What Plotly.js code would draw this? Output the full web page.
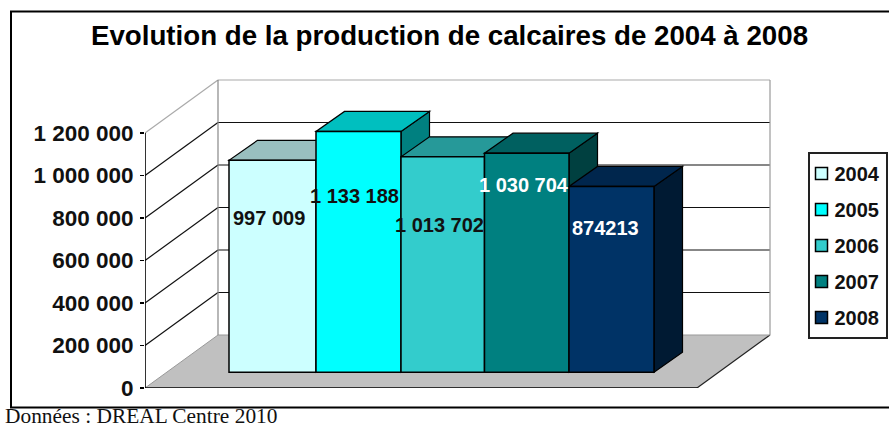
<!DOCTYPE html>
<html><head><meta charset="utf-8">
<script src="https://cdn.plot.ly/plotly-3.0.1.min.js"></script>
<style>html,body{margin:0;padding:0;background:#fff}</style></head>
<body><div id="chart" style="width:889px;height:427px"></div>
<script>
// Data
const years = ['2004','2005','2006','2007','2008'];
const values = [997009,1133188,1013702,1030704,874213];
const labels = ['997 009','1 133 188','1 013 702','1 030 704','874213'];
const barColors = ['#CCFFFF','#00FFFF','#33CCCC','#008080','#003366'];
const topColors = ['#99BFBF','#00BFBF','#269999','#006060','#00264D'];
const sideColors = ['#668080','#008080','#1A6666','#004040','#001A33'];
const labelColors = ['#111','#111','#111','#fff','#fff'];
const tickVals = [0,200000,400000,600000,800000,1000000,1200000];
const tickText = ['0','200 000','400 000','600 000','800 000','1 000 000','1 200 000'];

// Chart frame, in pixels
const W = 889, H = 427, L = 145, R = 780, T = 70, B = 388;
const PX_PER_CAT = 85, PX_PER_VAL = 212.5 / 1e6;
const catPx = px => px / PX_PER_CAT, valPx = px => px / PX_PER_VAL;
const xOf = px => (px - 229) / PX_PER_CAT - 0.5;
const paperX = px => (px - L) / (R - L), paperY = py => (B - py) / (B - T);

// Layout of the bars, in pixels
const barEdges = [229,316,401,484.5,569,654];
const labelCentres = [269,354.5,439.5,524,605];
const labelDrop = [58,65,68,32,42];

// Projection of the pseudo-3D box
const xL = xOf(L), xF = xOf(697);
const wallDX = catPx(73), wallDY = valPx(53);
const barDX = catPx(28.5), barDY = valPx(20);
const lift = valPx(15.8);
const vTop = 1200000;

const poly = (pts) => 'M' + pts.map(p => p[0] + ' ' + p[1]).join('L') + 'Z';
const shapes = [];
const add = (o) => shapes.push(Object.assign({xref:'x', yref:'y', layer:'below'}, o));
const seg = (x0,y0,x1,y1,color,width) => add({type:'line',x0,y0,x1,y1,line:{color,width}});

// Outer frame
shapes.push({type:'rect',xref:'paper',yref:'paper',layer:'below',
  x0:paperX(11),x1:paperX(W+5),y0:paperY(407.5),y1:paperY(11.5),
  line:{color:'#000',width:2},fillcolor:'rgba(0,0,0,0)'});

// Floor
add({type:'path',path:poly([[xL,0],[xF,0],[xF+wallDX,wallDY],[xL+wallDX,wallDY]]),
  fillcolor:'#C0C0C0',line:{width:0}});
seg(xL,0,xL+wallDX,wallDY,'#999',1);
seg(xF,0,xF+wallDX,wallDY,'#222',1.2);
// Walls and gridlines
tickVals.slice(1).forEach(v => {
  const c = v === vTop ? '#AAA' : '#111';
  seg(xL,v,xL+wallDX,v+wallDY,c,1.2);
  seg(xL+wallDX,v+wallDY,xF+wallDX,v+wallDY,c,1.2);
});
seg(xL+wallDX,wallDY,xF+wallDX,wallDY,'#999',1);
seg(xL+wallDX,wallDY,xL+wallDX,vTop+wallDY,'#888',1.2);
seg(xF+wallDX,wallDY,xF+wallDX,vTop+wallDY,'#999',1.2);

// Top and side of each bar, left to right
values.forEach((v,i) => {
  const x0 = xOf(barEdges[i]), x1 = xOf(barEdges[i+1]), t = v+lift;
  add({type:'path',path:poly([[x1,lift],[x1+barDX,lift+barDY],[x1+barDX,t+barDY],[x1,t]]),
    fillcolor:sideColors[i],line:{color:'#000',width:1.2}});
  add({type:'path',path:poly([[x0,t],[x1,t],[x1+barDX,t+barDY],[x0+barDX,t+barDY]]),
    fillcolor:topColors[i],line:{color:'#000',width:1.2}});
});

const traces = years.map((y,i) => {
  const x0 = xOf(barEdges[i]), x1 = xOf(barEdges[i+1]);
  return {type:'bar',name:y,x:[(x0+x1)/2],y:[values[i]],base:lift,width:x1-x0,legendgroup:y,
    marker:{color:barColors[i],line:{color:'#000',width:1.5}},hoverinfo:'name+y'};
});
// Axis lines of the front plane
traces.push({type:'scatter',mode:'lines',x:[xL,xL,xF],y:[vTop,0,0],showlegend:false,hoverinfo:'skip',
  cliponaxis:false,line:{color:'#000',width:1.6}});

const annotations = values.map((v,i) => ({
  xref:'x',yref:'y',x:xOf(labelCentres[i]),y:v+lift,yshift:-labelDrop[i],text:labels[i],showarrow:false,
  xanchor:'center',yanchor:'middle',font:{family:'Liberation Sans',size:20,color:labelColors[i],weight:700}
}));
annotations.push({xref:'paper',yref:'paper',x:paperX(3),y:paperY(415.5),text:'Données : DREAL Centre 2010',
  showarrow:false,xanchor:'left',yanchor:'middle',font:{family:'Liberation Serif',size:21.4,color:'#111'}});

const layout = {
  width:W,height:H,paper_bgcolor:'#fff',plot_bgcolor:'rgba(0,0,0,0)',barmode:'overlay',
  margin:{l:L,r:W-R,t:T,b:H-B,pad:0,autoexpand:false},
  title:{text:'Evolution de la production de calcaires de 2004 à 2008',xref:'paper',yref:'paper',
    x:paperX(449.5),y:paperY(42),xanchor:'center',yanchor:'middle',
    font:{family:'Liberation Sans',size:27.7,color:'#000',weight:700}},
  xaxis:{range:[xL,xOf(R)],visible:false,fixedrange:true},
  yaxis:{range:[0,(B-T)/PX_PER_VAL],showgrid:false,zeroline:false,showline:false,tickmode:'array',
    tickvals:tickVals,ticktext:tickText,ticks:'outside',ticklen:4,tickwidth:1.5,tickcolor:'#000',
    ticklabelstandoff:2,tickfont:{family:'Liberation Sans',size:22.5,color:'#111',weight:700},fixedrange:true},
  legend:{x:paperX(807.5),xanchor:'left',y:paperY(152),yanchor:'top',bgcolor:'#fff',bordercolor:'#222',borderwidth:2,
    traceorder:'grouped',tracegroupgap:7,indentation:-15,font:{family:'Liberation Sans',size:20,color:'#111',weight:700}},
  shapes,annotations
};
Plotly.newPlot('chart',traces,layout,{displayModeBar:false,staticPlot:true}).then(() => {
  // Swatches sit a little further right in the original legend box
  document.querySelectorAll('.legend .legendpoints').forEach(g => g.setAttribute('transform','translate(7,0)'));
});
</script></body></html>
